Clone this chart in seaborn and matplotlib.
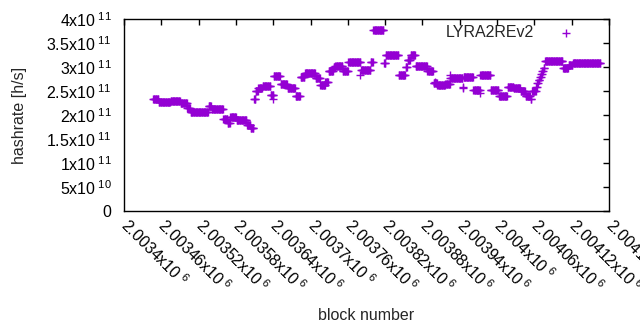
import numpy as np
import pandas as pd
import matplotlib
matplotlib.use("Agg")
import matplotlib.pyplot as plt
import seaborn as sns

# plateaus of the hashrate: first block, last block, rate (x1e11 h/s)
seg_first = [2003447, 2003456, 2003475, 2003491, 2003502, 2003507, 2003536, 2003541,
             2003560, 2003567, 2003571, 2003581, 2003598, 2003604, 2003609, 2003612,
             2003616, 2003623, 2003636, 2003641, 2003652, 2003663, 2003676, 2003684,
             2003691, 2003708, 2003716, 2003724, 2003729, 2003737, 2003740, 2003752,
             2003761, 2003781, 2003797, 2003801, 2003818, 2003821, 2003842, 2003853,
             2003856, 2003861, 2003869, 2003888, 2003898, 2003904, 2003917, 2003925,
             2003945, 2003946, 2003962, 2003973, 2003990, 2004003, 2004017, 2004027,
             2004038, 2004046, 2004054, 2004056, 2004063, 2004065, 2004067, 2004069,
             2004071, 2004073, 2004075, 2004077, 2004106, 2004115, 2004122]
seg_last = [2003455, 2003474, 2003490, 2003501, 2003506, 2003535, 2003540, 2003559,
            2003566, 2003570, 2003580, 2003597, 2003603, 2003608, 2003611, 2003615,
            2003622, 2003635, 2003640, 2003651, 2003662, 2003675, 2003683, 2003690,
            2003707, 2003715, 2003723, 2003728, 2003736, 2003739, 2003751, 2003760,
            2003780, 2003796, 2003800, 2003817, 2003820, 2003841, 2003852, 2003855,
            2003860, 2003868, 2003887, 2003897, 2003903, 2003916, 2003924, 2003944,
            2003945, 2003961, 2003972, 2003989, 2004002, 2004016, 2004026, 2004037,
            2004045, 2004053, 2004055, 2004062, 2004064, 2004066, 2004068, 2004070,
            2004072, 2004074, 2004076, 2004105, 2004114, 2004121, 2004166]
seg_rate = [2.33, 2.27, 2.30, 2.24, 2.14, 2.06, 2.19, 2.12,
            1.92, 1.83, 1.96, 1.90, 1.79, 1.73, 2.33, 2.50,
            2.56, 2.60, 2.42, 2.81, 2.65, 2.56, 2.40, 2.79,
            2.87, 2.77, 2.62, 2.68, 2.92, 2.99, 3.02, 2.92,
            3.10, 2.94, 3.10, 3.77, 3.08, 3.25, 2.83, 3.00,
            3.15, 3.25, 3.02, 2.92, 2.67, 2.62, 2.65, 2.77,
            2.58, 2.79, 2.52, 2.83, 2.52, 2.40, 2.58, 2.56,
            2.50, 2.40, 2.33, 2.50, 2.59, 2.66, 2.73, 2.80,
            2.86, 2.92, 2.97, 3.12, 2.98, 3.04, 3.08]

# single blocks off the plateaus
out_block = [2003780, 2003900, 2003924, 2003945, 2003973, 2003640]
out_rate = [2.83, 2.69, 2.83, 2.56, 2.46, 2.33]

blocks, rates = [], []
for a, b, r in zip(seg_first, seg_last, seg_rate):
    for blk in range(a, b + 1):
        blocks.append(blk)
        rates.append(r * 1e11)
blocks += out_block
rates += [r * 1e11 for r in out_rate]
df = pd.DataFrame({"block": blocks, "hashrate": rates})

sns.set_style("white")
plt.rcParams["font.family"] = ["Liberation Sans", "DejaVu Sans"]
plt.rcParams["mathtext.fontset"] = "custom"
plt.rcParams["mathtext.rm"] = "Liberation Sans"
plt.rcParams["mathtext.it"] = "Liberation Sans"

fig = plt.figure(figsize=(6.4, 3.3), dpi=100)
ax = fig.add_axes([124 / 640, 1 - 211 / 330, (609 - 124) / 640, (211 - 19) / 330])

sns.scatterplot(data=df, x="block", y="hashrate", marker="+", color="#9400d3",
                s=36, linewidth=1.0, label="LYRA2REv2", ax=ax)

ax.set_xlim(2003400, 2004180)
ax.set_ylim(0, 4e11)

xt = np.arange(2003400, 2004181, 60)
ax.set_xticks(xt)
ax.set_xticklabels([f"{v / 1e6:g}x10$^{{\\ 6}}$" for v in xt],
                   rotation=-45, ha="left", va="center", rotation_mode="anchor")

yt = np.arange(0, 4.01e11, 0.5e11)
ylab = []
for v in yt:
    if v == 0:
        ylab.append("0")
    else:
        e = int(np.floor(np.log10(v)))
        m = v / 10 ** e
        ylab.append(f"{m:g}x10$^{{\\ {e}}}$")
ax.set_yticks(yt)
ax.set_yticklabels(ylab)

ax.tick_params(direction="in", length=4, width=1, top=True, right=True,
               labelsize=11.5, colors="black")
ax.tick_params(axis="y", pad=9)
ax.tick_params(axis="x", pad=8)
for sp in ax.spines.values():
    sp.set_color("black")
    sp.set_linewidth(1)

ax.set_xlabel("block number", fontsize=11.5)
ax.set_ylabel("hashrate [h/s]", fontsize=11.5)
ax.xaxis.set_label_coords(0.5, (211 - 308) / 192)
ax.yaxis.set_label_coords((27 - 124) / 485, 0.5)

leg = ax.legend(loc="upper right", frameon=False, markerfirst=False,
                fontsize=11.5, bbox_to_anchor=(0.974, 1.042), handletextpad=1.0)

fig.savefig("out.png", dpi=100)
